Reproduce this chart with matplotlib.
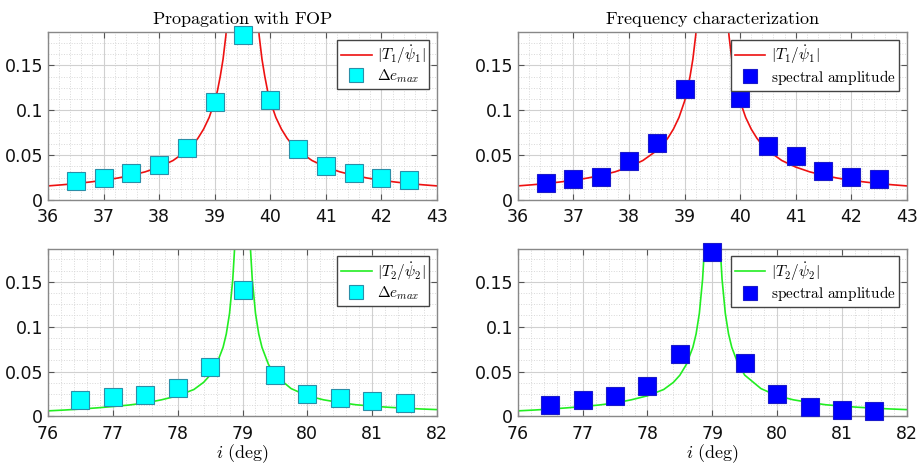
import numpy as np
import matplotlib
matplotlib.use("Agg")
import matplotlib.pyplot as plt
from matplotlib.ticker import MultipleLocator

plt.rcParams['mathtext.fontset'] = 'cm'
plt.rcParams['font.family'] = 'DejaVu Sans'

# --- data ---
# top row: mode 1, angles 36..43
x_fop1 = [36.5, 37, 37.5, 38, 38.5, 39, 39.5, 40, 40.5, 41, 41.5, 42, 42.5]
de_max1 = [0.021, 0.025, 0.030, 0.039, 0.058, 0.109, 0.184, 0.111, 0.057, 0.038, 0.030, 0.025, 0.022]

x_spec1 = [36.5, 37, 37.5, 38, 38.5, 39, 40, 40.5, 41, 41.5, 42, 42.5]
spec1 = [0.019, 0.023, 0.026, 0.043, 0.064, 0.124, 0.114, 0.060, 0.049, 0.032, 0.026, 0.023]

# |T1/psi1| curve
x_t1 = [36, 36.25, 36.5, 36.75, 37, 37.25, 37.5, 37.75, 38, 38.25, 38.5, 38.6, 38.7,
        38.8, 38.9, 39, 39.05, 39.1, 39.15, 39.2, 39.25,
        39.75, 39.8, 39.85, 39.9, 39.95, 40, 40.1, 40.2, 40.3, 40.4, 40.5, 40.75,
        41, 41.25, 41.5, 41.75, 42, 42.25, 42.5, 42.75, 43]
t1 = [0.0157, 0.0169, 0.0183, 0.0200, 0.0220, 0.0244, 0.0275, 0.0314, 0.0367, 0.0440, 0.0550, 0.0610, 0.0690,
      0.0790, 0.0920, 0.110, 0.122, 0.138, 0.157, 0.183, 0.220,
      0.220, 0.183, 0.157, 0.138, 0.122, 0.110, 0.092, 0.079, 0.069, 0.061, 0.055, 0.044,
      0.0367, 0.0314, 0.0275, 0.0244, 0.0220, 0.0200, 0.0183, 0.0169, 0.0157]

# bottom row: mode 2, angles 76..82
x_fop2 = [76.5, 77, 77.5, 78, 78.5, 79, 79.5, 80, 80.5, 81, 81.5]
de_max2 = [0.018, 0.022, 0.024, 0.032, 0.055, 0.141, 0.046, 0.025, 0.021, 0.017, 0.015]

x_spec2 = [76.5, 77, 77.5, 78, 78.5, 79, 79.5, 80, 80.5, 81, 81.5]
spec2 = [0.013, 0.018, 0.023, 0.034, 0.070, 0.183, 0.060, 0.025, 0.010, 0.007, 0.006]

# |T2/psi2| curve
x_t2 = [76, 76.25, 76.5, 76.75, 77, 77.25, 77.5, 77.75, 78, 78.25, 78.4, 78.5, 78.6, 78.7,
        78.75, 78.8, 78.85, 78.88, 78.9,
        79.1, 79.12, 79.15, 79.2, 79.25, 79.3, 79.4, 79.5, 79.75, 80, 80.25, 80.5,
        80.75, 81, 81.25, 81.5, 81.75, 82]
t2 = [0.0062, 0.0071, 0.0082, 0.0095, 0.0110, 0.0127, 0.0150, 0.0185, 0.0230, 0.0300, 0.0380, 0.0460, 0.0580, 0.0770,
      0.092, 0.115, 0.153, 0.190, 0.230,
      0.230, 0.190, 0.153, 0.115, 0.092, 0.077, 0.058, 0.046, 0.031, 0.023, 0.0185, 0.0155,
      0.0130, 0.0115, 0.0102, 0.0092, 0.0083, 0.0076]

titles = ['Propagation with FOP', 'Frequency characterization']


def mtext(s):
    return r'$\mathrm{' + s.replace(' ', r'\ ') + '}$'


def style(ax, xlim):
    ax.set_xlim(xlim)
    ax.set_ylim(0, 0.187)
    ax.xaxis.set_major_locator(MultipleLocator(1))
    ax.xaxis.set_minor_locator(MultipleLocator(0.2))
    ax.yaxis.set_minor_locator(MultipleLocator(0.0125))
    ax.set_yticks([0, 0.05, 0.1, 0.15])
    ax.set_yticklabels(['0', '0.05', '0.1', '0.15'])
    ax.grid(which='major', color='#d0d0d0', lw=0.8, ls='-')
    ax.grid(which='minor', color='#d8d8d8', lw=0.7, ls=':')
    ax.set_axisbelow(True)
    ax.tick_params(which='both', direction='in', top=True, right=True,
                   labelsize=12.5, colors='#555555', labelcolor='#111111')
    ax.tick_params(which='minor', length=0)
    ax.tick_params(which='major', length=4)
    ax.tick_params(axis='x', pad=6)
    for sp in ax.spines.values():
        sp.set_color('#888888')
        sp.set_linewidth(1.0)


fig = plt.figure(figsize=(9.23, 4.70), dpi=100)
w, h = 0.4215, 0.357
ax1 = fig.add_axes([0.052, 0.5745, w, h])
ax2 = fig.add_axes([0.561, 0.5745, w, h])
ax3 = fig.add_axes([0.052, 0.114, w, h])
ax4 = fig.add_axes([0.561, 0.114, w, h])

leg_kw = dict(loc='upper right', fancybox=False, edgecolor='#444444', framealpha=1,
              fontsize=11, borderpad=0.25, handlelength=2.0, handletextpad=0.35,
              labelspacing=0.1, borderaxespad=0.5, markerscale=0.8)
mk = dict(ls='none', marker='s', ms=13, clip_on=False, zorder=3)

# top-left
ax1.plot(x_t1, t1, color='#ee1111', lw=1.2, label=r'$|T_1/\dot{\psi}_1|$')
ax1.plot(x_fop1, de_max1, mfc='#00ffff', mec='#2a8fa8', mew=0.8, label=r'$\Delta e_{max}$', **mk)
style(ax1, (36, 43))
ax1.legend(**leg_kw).set_zorder(5)
ax1.set_title(mtext(titles[0]), fontsize=13, pad=6)

# top-right
ax2.plot(x_t1, t1, color='#ee1111', lw=1.2, label=r'$|T_1/\dot{\psi}_1|$')
ax2.plot(x_spec1, spec1, mfc='#0000ff', mec='#1a1acc', mew=0.8, label=mtext('spectral amplitude'), **mk)
style(ax2, (36, 43))
ax2.legend(**leg_kw).set_zorder(5)
ax2.set_title(mtext(titles[1]), fontsize=13, pad=6)

# bottom-left
ax3.plot(x_t2, t2, color='#22ee22', lw=1.2, label=r'$|T_2/\dot{\psi}_2|$')
ax3.plot(x_fop2, de_max2, mfc='#00ffff', mec='#2a8fa8', mew=0.8, label=r'$\Delta e_{max}$', **mk)
style(ax3, (76, 82))
ax3.legend(**leg_kw).set_zorder(5)
ax3.set_xlabel(r'$i\ \mathrm{(deg)}$', fontsize=13, labelpad=0)

# bottom-right
ax4.plot(x_t2, t2, color='#22ee22', lw=1.2, label=r'$|T_2/\dot{\psi}_2|$')
ax4.plot(x_spec2, spec2, mfc='#0000ff', mec='#1a1acc', mew=0.8, label=mtext('spectral amplitude'), **mk)
style(ax4, (76, 82))
ax4.legend(**leg_kw).set_zorder(5)
ax4.set_xlabel(r'$i\ \mathrm{(deg)}$', fontsize=13, labelpad=0)

fig.savefig('out.png', dpi=100)
